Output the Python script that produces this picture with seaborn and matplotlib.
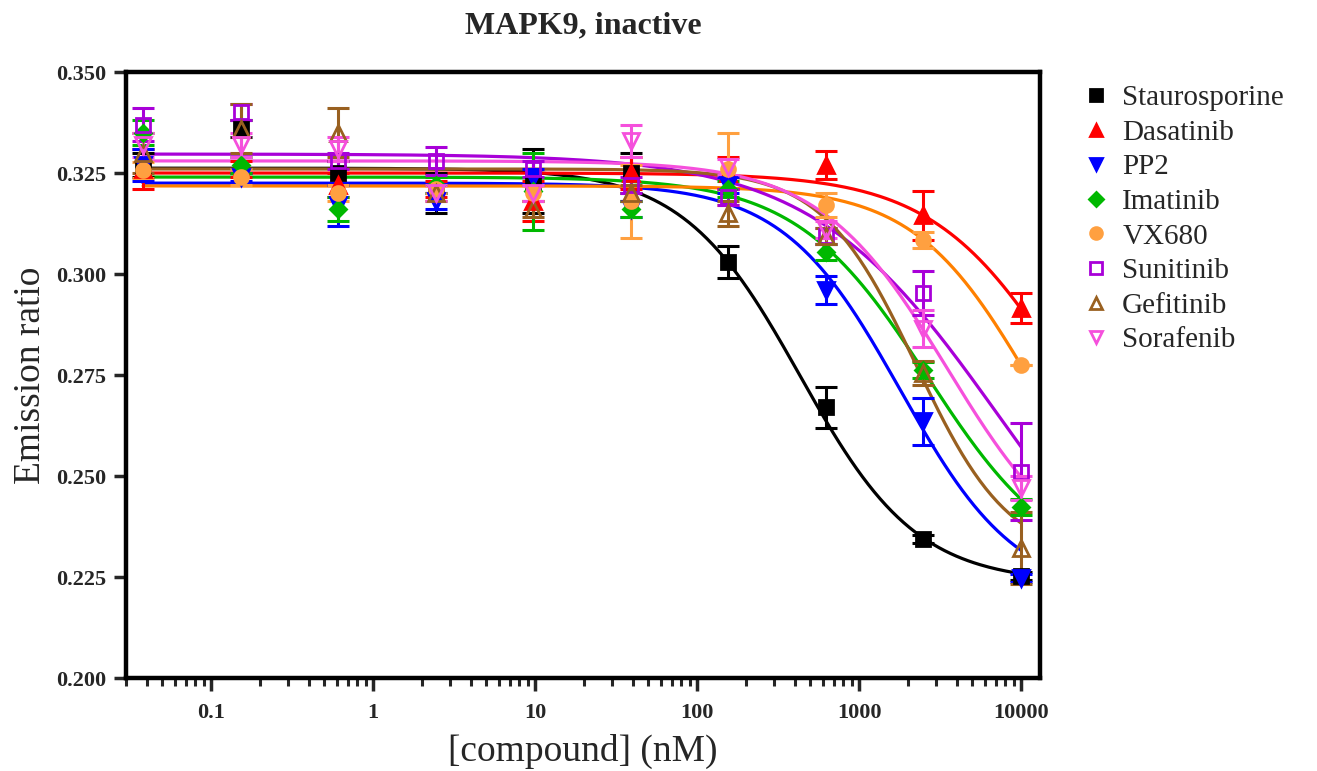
"""Dose-response curves for MAPK9 (inactive) with eight kinase inhibitors."""

import matplotlib
matplotlib.use("Agg")
import matplotlib.pyplot as plt
import matplotlib.ticker as mticker
from matplotlib.lines import Line2D
import numpy as np
import pandas as pd
import seaborn as sns

# concentrations (nM), 4-fold dilution series
conc = [0.0381, 0.153, 0.610, 2.44, 9.77, 39.1, 156, 625, 2500, 10000]

compounds = ["Staurosporine", "Dasatinib", "PP2", "Imatinib",
             "VX680", "Sunitinib", "Gefitinib", "Sorafenib"]

# mean emission ratio per concentration
stauro = [0.327, 0.336, 0.325, 0.320, 0.323, 0.325, 0.303, 0.267, 0.2344, 0.2253]
dasat = [0.326, 0.326, 0.322, 0.321, 0.318, 0.325, 0.325, 0.327, 0.3145, 0.2915]
pp2 = [0.327, 0.324, 0.317, 0.318, 0.324, 0.316, 0.322, 0.296, 0.2635, 0.2248]
imat = [0.335, 0.327, 0.316, 0.322, 0.3205, 0.316, 0.321, 0.3055, 0.2762, 0.2423]
vx680 = [0.3257, 0.324, 0.320, 0.321, 0.320, 0.318, 0.326, 0.317, 0.3084, 0.2775]
sunit = [0.337, 0.340, 0.328, 0.328, 0.326, 0.322, 0.319, 0.3095, 0.2953, 0.251]
gefit = [0.330, 0.336, 0.335, 0.320, 0.316, 0.320, 0.315, 0.3095, 0.2755, 0.2322]
soraf = [0.332, 0.332, 0.331, 0.320, 0.320, 0.333, 0.3265, 0.311, 0.2865, 0.247]

# error bars (SEM)
stauro_err = [0.003, 0.002, 0.003, 0.005, 0.008, 0.005, 0.004, 0.005, 0.001, 0.001]
dasat_err = [0.005, 0.002, 0.003, 0.002, 0.005, 0.004, 0.004, 0.0035, 0.006, 0.0037]
pp2_err = [0.004, 0.001, 0.005, 0.002, 0.002, 0.002, 0.002, 0.0035, 0.0057, 0.001]
imat_err = [0.003, 0.002, 0.003, 0.002, 0.0095, 0.002, 0.002, 0.002, 0.002, 0.002]
vx680_err = [0.002, 0.002, 0.002, 0.001, 0.002, 0.009, 0.009, 0.003, 0.002, 0.0]
sunit_err = [0.004, 0.002, 0.002, 0.0035, 0.002, 0.002, 0.002, 0.002, 0.0055, 0.012]
gefit_err = [0.005, 0.006, 0.006, 0.002, 0.002, 0.002, 0.003, 0.002, 0.003, 0.009]
soraf_err = [0.003, 0.003, 0.003, 0.002, 0.002, 0.004, 0.002, 0.002, 0.0045, 0.003]

# four-parameter logistic fit: top, bottom, IC50 (nM), hill slope
fit_top = [0.3262, 0.325, 0.3225, 0.324, 0.3218, 0.3297, 0.326, 0.328]
fit_bottom = [0.2235, 0.2235, 0.220, 0.225, 0.225, 0.200, 0.229, 0.225]
fit_ic50 = [432, 19500, 1800, 2650, 11500, 7300, 2250, 3520]
fit_hill = [1.2, 1.05, 1.2, 1.07, 1.2, 0.75, 1.5, 1.1]

means = [stauro, dasat, pp2, imat, vx680, sunit, gefit, soraf]
errors = [stauro_err, dasat_err, pp2_err, imat_err, vx680_err, sunit_err, gefit_err, soraf_err]

line_colors = ["#000000", "#FF0000", "#0000FF", "#00B800",
               "#FF8000", "#A800D8", "#996020", "#F550DC"]
marker_colors = ["#000000", "#FF0000", "#0000FF", "#00B800",
                 "#FFA040", "#A800D8", "#996020", "#F550DC"]
markers = ["s", "^", "v", "D", "o", "s", "^", "v"]
filled = [True, True, True, True, True, False, False, False]
msizes = [10, 11, 11, 8, 10, 10, 11, 11]

SERIF = ["Liberation Serif", "DejaVu Serif"]

sns.set_theme(style="ticks")
plt.rcParams["font.family"] = SERIF

# fitted curves
grid = np.logspace(np.log10(conc[0]), np.log10(conc[-1]), 300)
rows = []
for name, top, bot, ic50, hill in zip(compounds, fit_top, fit_bottom, fit_ic50, fit_hill):
    y = bot + (top - bot) / (1 + (grid / ic50) ** hill)
    rows.append(pd.DataFrame({"conc": grid, "ratio": y, "compound": name}))
curve_df = pd.concat(rows, ignore_index=True)

fig = plt.figure(figsize=(13.17, 7.71), dpi=100)
ax = fig.add_axes([0.0957, 0.1206, 0.694, 0.786])

sns.lineplot(data=curve_df, x="conc", y="ratio", hue="compound", hue_order=compounds,
             palette=line_colors, linewidth=2.3, legend=False, ax=ax, zorder=3)

handles = []
for i, name in enumerate(compounds):
    c = marker_colors[i]
    face_leg = c if filled[i] else "none"
    ax.errorbar(conc, means[i], yerr=errors[i], fmt="none", ecolor=c,
                elinewidth=2.2, capsize=8, capthick=2.2, zorder=4)
    ax.plot(conc, means[i], linestyle="none", marker=markers[i], markersize=msizes[i],
            markerfacecolor=face_leg, markeredgecolor=c,
            markeredgewidth=2.0, zorder=5)
    handles.append(Line2D([], [], linestyle="none", marker=markers[i],
                          markersize=msizes[i] * 0.85, markerfacecolor=face_leg,
                          markeredgecolor=c, markeredgewidth=2.0, label=name))

ax.set_xscale("log")
ax.set_xlim(0.0299, 13100)
ax.set_ylim(0.200, 0.350)
ax.yaxis.set_major_locator(mticker.MultipleLocator(0.025))
ax.yaxis.set_major_formatter(mticker.FormatStrFormatter("%.3f"))
ax.xaxis.set_major_locator(mticker.FixedLocator([0.1, 1, 10, 100, 1000, 10000]))
ax.xaxis.set_major_formatter(mticker.FixedFormatter(["0.1", "1", "10", "100", "1000", "10000"]))
ax.xaxis.set_minor_locator(mticker.LogLocator(base=10, subs=np.arange(2, 10)))
ax.xaxis.set_minor_formatter(mticker.NullFormatter())

for side in ["top", "right", "left", "bottom"]:
    ax.spines[side].set_linewidth(3.2)
    ax.spines[side].set_color("black")
ax.tick_params(axis="both", which="major", direction="out", length=9, width=2.5,
               labelsize=16, pad=5)
ax.tick_params(axis="x", which="major", pad=9)
ax.tick_params(axis="x", which="minor", direction="out", length=6, width=2.2)
for lbl in ax.get_xticklabels() + ax.get_yticklabels():
    lbl.set_fontweight("bold")

ax.set_xlabel("[compound] (nM)", fontsize=27, labelpad=8)
ax.set_ylabel("Emission ratio", fontsize=27, labelpad=6)
ax.set_title("MAPK9, inactive", fontsize=23, fontweight="bold", pad=28)

fig.legend(handles=handles, loc="upper left", bbox_to_anchor=(0.81, 0.905),
           frameon=False, fontsize=21, handletextpad=0.3, labelspacing=0.28,
           handlelength=1.2, borderaxespad=0)

fig.savefig("out.png", dpi=100)
